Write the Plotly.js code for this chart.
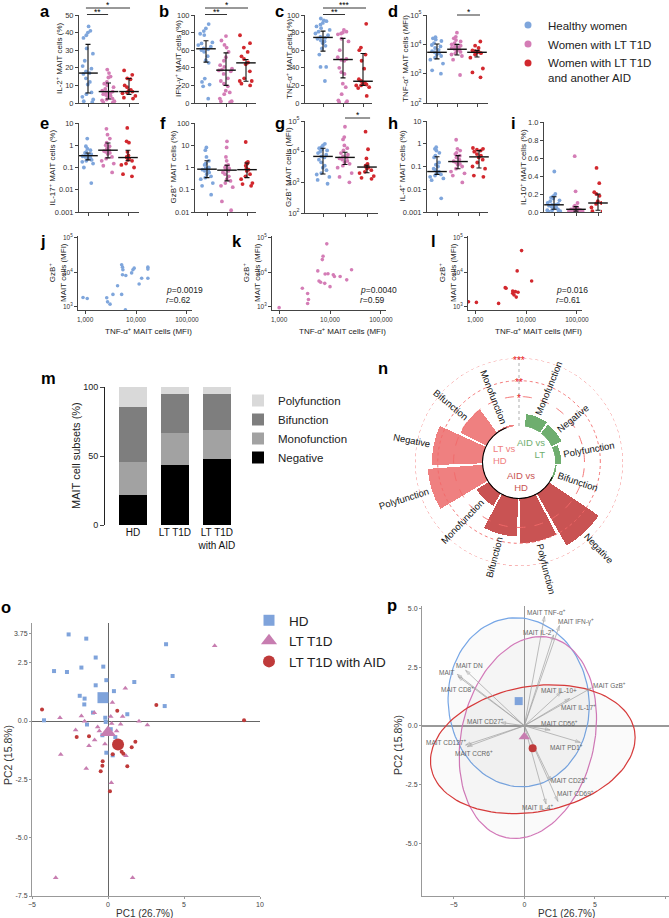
<!DOCTYPE html>
<html><head><meta charset="utf-8">
<script src="https://cdn.plot.ly/plotly-3.0.1.min.js"></script>
<style>body{margin:0;background:#fff}#chart{width:669px;height:918px}</style>
</head><body><div id="chart"></div>
<script>
// ================= DATA =================
const groupNames = ['Healthy women','Women with LT T1D','Women with LT T1D<br>and another AID'];

// a: IL-2+ MAIT cells (%)
const aHD  = [43.5,41,40,38.5,37,31,28,24,21,19.5,18,17,16.5,14,12,10.5,6,5,3.5,2,1,0.5];
const aLT  = [19,17,15,14.5,12,11,10,9,8,7,6.5,6,5.5,5,4.5,4,3,2.5,2,1.5,1,0.5,0.2];
const aAID = [18.5,16,14,13.5,10,9,7.5,7,6.5,6,5.5,4,3,2.5];
const aMed = [17,6.5,6.5], aQ1 = [5.7,2.3,4.9], aQ3 = [33.3,11.4,13.9];
// b: IFN-g+ MAIT cells (%)
const bHD  = [89.7,84.8,81.7,78.7,77.2,68.8,67.7,65.8,63.9,62,61,60,58.2,53.2,48.7,45.6,27.8,24,20.9,19,4.9];
const bLT  = [76,71,66,63,58,52,48,43,41,39,38,37,36,33,28,25,22,19,14,12,10,5,2,2,1];
const bAID = [77,68,63,58,53,50,46,44,36,28,25,25,22,20];
const bMed = [61.6,37.3,45.6], bQ1 = [46.4,20,24.7], bQ3 = [70.7,57,49.4];
// c: TNF-a+ MAIT cells (%)
const cHD  = [96,94,93,91,89,87,85,83,81,79,77,75,74,73,71,70,68,65,62,55,41,41,25];
const cLT  = [83,81,80,79,78,73,70,60,52,50,49,48,40,35,33,22,18,10,3,2,1,0.5];
const cAID = [90,63,60,55,48,39,27,25,23,22,21,20,20,18,17,8];
const cMed = [74.5,49.4,24.7], cQ1 = [58.9,28.5,20], cQ3 = [81.7,73.4,56.3];
// d: TNF-a+ MAIT cells (MFI)
const dHD  = [17500,16000,14500,13000,11000,9500,8500,7500,6500,5800,5400,5000,4500,4000,3500,3000,2200,1300,1000];
const dLT  = [25000,18000,16000,14000,12500,11000,10000,9000,8500,8000,7500,7000,6500,6000,5500,5000,4500,4000,3000,900];
const dAID = [12500,9000,7500,6200,5800,5500,5300,5000,4500,3500,1500,1100,750];
const dMed = [5350,6800,5350], dQ1 = [3200,4350,3700], dQ3 = [10250,10000,6200];
// e: IL-17+ MAIT cells (%)
const eHD  = [2.0,0.9,0.7,0.6,0.5,0.45,0.4,0.38,0.35,0.32,0.3,0.28,0.25,0.22,0.2,0.18,0.15,0.1,0.02];
const eLT  = [5.5,3.0,2.0,1.3,1.0,0.9,0.7,0.6,0.55,0.5,0.45,0.4,0.3,0.25,0.2,0.15,0.12,0.06];
const eAID = [6.0,1.5,1.3,0.5,0.35,0.3,0.28,0.25,0.22,0.2,0.15,0.13,0.1,0.05,0.04];
const eMed = [0.34,0.6,0.28], eQ1 = [0.22,0.27,0.2], eQ3 = [0.45,1.27,0.6];
// f: GzB+ MAIT cells (%)
const fHD  = [8,6,3,2,1.5,1.3,1.0,0.9,0.8,0.8,0.7,0.6,0.5,0.4,0.35,0.3,0.2,0.15,0.06];
const fLT  = [15,8,3,2,1.3,1.2,1.0,0.9,0.8,0.7,0.6,0.5,0.4,0.3,0.25,0.2,0.15,0.13,0.03,0.012];
const fAID = [14,1.8,1.6,1.5,1.2,0.9,0.8,0.7,0.5,0.4,0.3,0.2,0.18,0.15];
const fMed = [0.84,0.76,0.8], fQ1 = [0.35,0.25,0.35], fQ3 = [2.0,1.27,1.6];
// g: GzB+ MAIT cells (MFI)
const gHD  = [18000,16000,14000,13000,12000,11000,10000,9000,8000,7000,6500,5500,4500,3500,3000,2500,2000,1800,1500,1200,900];
const gLT  = [65000,30000,25000,16000,13000,11000,9000,8000,7000,6500,6000,5500,5000,4500,4000,3500,3000,2000,1500,1000];
const gAID = [45000,12000,6000,4000,3500,3200,3000,2800,2500,2200,2000,1600,1400,1300];
const gMed = [7000,6500,3150], gQ1 = [1870,3800,2050], gQ3 = [12900,9600,3600];
// h: IL-4+ MAIT cells (%)
const hHD  = [0.7,0.6,0.5,0.4,0.3,0.25,0.15,0.12,0.1,0.08,0.07,0.06,0.05,0.045,0.04,0.035,0.03,0.025,0.004];
const hLT  = [1.5,0.6,0.5,0.4,0.35,0.3,0.25,0.2,0.17,0.15,0.13,0.12,0.1,0.08,0.06,0.05,0.04,0.02];
const hAID = [0.65,0.6,0.55,0.5,0.45,0.35,0.3,0.25,0.2,0.15,0.1,0.08,0.04,0.035];
const hMed = [0.06,0.165,0.265], hQ1 = [0.045,0.08,0.086], hQ3 = [0.27,0.3,0.5];
// i: IL-10+ MAIT cells (%)
const iHD  = [0.45,0.2,0.18,0.17,0.16,0.15,0.13,0.12,0.1,0.09,0.08,0.08,0.07,0.06,0.05,0.04,0.03,0.02,0.02,0.01,0.005,0];
const iLT  = [0.62,0.23,0.1,0.07,0.06,0.05,0.04,0.035,0.03,0.03,0.025,0.02,0.02,0.015,0.01,0.01,0.005,0];
const iAID = [0.49,0.32,0.22,0.2,0.18,0.12,0.1,0.09,0.05,0.02,0.01,0.005];
const iMed = [0.08,0.03,0.1], iQ1 = [0.03,0.01,0.02], iQ3 = [0.17,0.06,0.2];

// j-l: TNF-a+ MFI (x) vs GzB+ MFI (y)
const jX = [909,1100,2660,2760,3090,3520,4340,5220,5220,5420,5530,5420,6190,6300,8200,8700,9200,11500,12900,17100,17100,17100];
const jY = [1860,1740,1830,1400,1200,2300,4100,2300,16600,14100,11800,8500,830,8100,9600,11800,13200,4600,6700,14100,12400,6700];
const kX = [1000,2860,3630,3770,3630,5750,6080,6540,7060,7300,7870,8010,8640,9120,10000,11600,12200,15800,21300,26500];
const kY = [950,3450,2450,1630,1250,11000,5600,5150,23300,29000,4800,8900,66600,9100,3850,8500,7600,7600,6050,11800];
const lX = [740,1060,2890,3900,4060,5480,5480,5820,6180,6430,6700,6970,8180,12900];
const lY = [1410,1350,1260,3600,3450,2460,2890,2200,2760,1920,11000,2640,42400,5600];
const corrP = ['0.0019','0.0040','0.016'];
const corrR = ['0.62','0.59','0.61'];

// m: MAIT cell subsets (%)
const mCats = ['HD','LT T1D','LT T1D<br>with AID'];
const mNegative     = [21.7,43.5,47.8];
const mMonofunction = [24.3,23.2,21.0];
const mBifunction   = [39.5,28.3,26.2];
const mPolyfunction = [14.5,5.0,5.0];

// n: -log10(p) of comparisons
const nGroups = ['AID vs LT','AID vs LT','AID vs LT','AID vs LT','AID vs HD','AID vs HD','AID vs HD','AID vs HD','LT vs HD','LT vs HD','LT vs HD','LT vs HD'];
const nSubsets = ['Monofunction','Negative','Polyfunction','Bifunction','Negative','Polyfunction','Bifunction','Monofunction','Polyfunction','Negative','Bifunction','Monofunction'];
const nValues = [0.55,0.5,0.27,0.08,2.65,2.0,1.7,0.65,2.45,2.25,1.3,0.08];
const nSigLevels = [1.3,2,3];
const nSigText = ['*','**','***'];

// o: PCA individuals
const oHDx = [-2.59,-1.43,3.82,-0.81,-1.75,-0.31,-3.55,-2.70,4.25,-0.11,1.73,-0.81,0.39,-1.86,-1.54,-1.56,3.73,-0.99,1.27,-0.18,-4.21,-0.15,-1.38,0.18,-0.37,0.48,-0.11,0.31];
const oHDy = [3.71,3.53,3.29,2.72,2.29,2.33,2.14,2.10,1.93,1.75,1.67,1.53,1.28,1.08,0.96,0.71,0.64,0.36,0.29,0.14,0.03,-0.04,-0.15,-0.35,-0.61,-0.69,-1.36,-1.47];
const oLTx = [7.02,1.14,0.29,-3.16,-1.75,-0.90,0.18,0.96,-1.54,2.04,2.59,0.24,0.83,-2.13,-0.68,-0.57,0.57,-0.88,-1.25,-0.20,-3.11,1.18,-1.43,0.22,-3.44,1.62];
const oLTy = [3.22,1.40,0.79,0.14,0.21,0.35,0.19,0.19,-0.01,-0.01,-0.17,-0.11,-0.14,-0.39,-0.26,-0.43,-0.43,-0.81,-1.06,-0.99,-1.44,-1.49,-2.04,-2.65,-6.72,-6.72];
const oAIDx = [-4.34,3.18,0.61,8.95,-2.06,-1.25,1.80,1.56,0.90,1.01,0.31,-0.35,-0.37,1.27,-0.48,0.13];
const oAIDy = [0.49,0.69,0.44,0.03,-0.69,-0.65,-0.89,-1.13,-1.32,-1.40,-1.43,-1.72,-1.92,-1.94,-2.15,-3.01];
const centName = ['HD','LT T1D','LT T1D with AID'];
const centX = [-0.33,0.0,0.66];
const centY = [1.0,-0.49,-1.01];

// p: PCA variables (loadings) and group ellipses
const pVars = ['MAIT TNF-α<sup>+</sup>','MAIT IFN-γ<sup>+</sup>','MAIT IL-2<sup>+</sup>','MAIT DN','MAIT','MAIT CD8<sup>+</sup>','MAIT GzB<sup>+</sup>','MAIT IL-10+','MAIT IL-17<sup>+</sup>','MAIT CD27<sup>+</sup>','MAIT CD56<sup>+</sup>','MAIT CD127<sup>+</sup>','MAIT CCR6<sup>+</sup>','MAIT PD1<sup>+</sup>','MAIT CD25<sup>+</sup>','MAIT CD69<sup>+</sup>','MAIT IL-4<sup>+</sup>'];
const pLoadX = [1.43,2.49,2.07,-4.16,-4.75,-4.7,4.75,2.61,3.21,-1.66,1.83,-4.16,-4.04,3.97,1.9,2.38,1.54];
const pLoadY = [4.66,4.27,3.87,2.36,2.19,2.1,1.61,1.44,1.16,0.14,-0.18,-0.82,-0.89,-0.71,-2.37,-3.22,-3.33];
const pLabX = [1.59,3.68,1.0,-3.92,-5.51,-4.75,6.06,2.49,3.87,-2.78,2.49,-5.58,-3.56,3.02,3.21,3.63,0.95];
const pLabY = [4.86,4.43,4.01,2.57,2.26,1.58,1.72,1.51,0.78,0.2,0.13,-0.68,-1.17,-0.92,-2.3,-2.87,-3.47];
const pCentX = [-0.4,0.0,0.59];
const pCentY = [1.05,-0.47,-0.96];
const ellCenter = [[-0.4,1.0],[0.25,-0.5],[0.6,-1.0]];
const ellU = [[5.0,0.0],[4.8,0.1],[7.25,0.5]];
const ellV = [[-0.2,3.6],[0.8,4.3],[0.0,2.7]];

// ================= LAYOUT / DRAWING =================
const W=669, H=918;
const X = px => px/W, Y = py => 1 - py/H;
const COL  = ['#7FA6DC','#D47DB6','#D2282E'];
const OCOL = ['#7FA3DB','#C77DB0','#BF3A3A'];
const FONT = '"Liberation Sans", Arial, sans-serif';
const traces = [];
const layout = {width:W, height:H, margin:{l:0,r:0,t:0,b:0}, paper_bgcolor:'#fff', plot_bgcolor:'rgba(0,0,0,0)',
  font:{family:FONT, color:'#222', size:8}, showlegend:true, annotations:[], shapes:[], barmode:'stack'};
function ann(o){ layout.annotations.push(Object.assign({showarrow:false, xref:'paper', yref:'paper', xanchor:'center', yanchor:'middle'}, o)); }
function letter(t, px, py){ ann({text:'<b>'+t+'</b>', x:X(px), y:Y(py), yanchor:'top', font:{size:16.5, color:'#000'}}); }

const linTicks100 = [0,20,40,60,80,100];
const PANELS = [
 {n:1, let:'a', lp:[45,0], data:[aHD,aLT,aAID], med:aMed, q1:aQ1, q3:aQ3, L:79, C0:88, S:20.5, R:139, top:15, bot:103, type:'linear', range:[0,50], tv:[0,10,20,30,40,50], tt:null, title:'IL-2<sup>+</sup> MAIT cells (%)', tx:59,
  sig:[[-0.1,2.05,8,'*'],[-0.05,0.98,14.5,'**']]},
 {n:2, let:'b', lp:[164,0], data:[bHD,bLT,bAID], med:bMed, q1:bQ1, q3:bQ3, L:195, C0:206, S:20, R:256, top:15, bot:103, type:'linear', range:[0,100], tv:linTicks100, tt:null, title:'IFN-γ<sup>+</sup> MAIT cells (%)', tx:178,
  sig:[[-0.05,2.1,8,'*'],[-0.05,1.05,14.5,'**']]},
 {n:3, let:'c', lp:[279,0], data:[cHD,cLT,cAID], med:cMed, q1:cQ1, q3:cQ3, L:305, C0:323, S:20, R:372, top:15, bot:103, type:'linear', range:[0,100], tv:linTicks100, tt:null, title:'TNF-α<sup>+</sup> MAIT cells (%)', tx:289,
  sig:[[0,2.15,8,'***'],[0,1.1,14.5,'**']]},
 {n:4, let:'d', lp:[393,0], data:[dHD,dLT,dAID], med:dMed, q1:dQ1, q3:dQ3, L:427, C0:437, S:20, R:488, top:15, bot:103, type:'log', range:[2,5], tv:[100,1000,10000,100000], tt:['10<sup>2</sup>','10<sup>3</sup>','10<sup>4</sup>','10<sup>5</sup>'], title:'TNF-α<sup>+</sup> MAIT cells (MFI)', tx:405,
  sig:[[1.0,2.15,15,'*']]},
 {n:5, let:'e', lp:[44,112], data:[eHD,eLT,eAID], med:eMed, q1:eQ1, q3:eQ3, L:79, C0:88, S:20, R:139, top:123, bot:212, type:'log', range:[-3,1], tv:[0.001,0.01,0.1,1,10], tt:['0.001','0.01','0.1','1','10'], title:'IL-17<sup>+</sup> MAIT cells (%)', tx:52, sig:[]},
 {n:6, let:'f', lp:[163,112], data:[fHD,fLT,fAID], med:fMed, q1:fQ1, q3:fQ3, L:195, C0:207, S:20, R:256, top:123, bot:212, type:'log', range:[-2,2], tv:[0.01,0.1,1,10,100], tt:['0.01','0.1','1','10','100'], title:'GzB<sup>+</sup> MAIT cells (%)', tx:173, sig:[]},
 {n:7, let:'g', lp:[280,112], data:[gHD,gLT,gAID], med:gMed, q1:gQ1, q3:gQ3, L:305, C0:323, S:22, R:378, top:121, bot:213, type:'log', range:[2,5], tv:[100,1000,10000,100000], tt:['10<sup>2</sup>','10<sup>3</sup>','10<sup>4</sup>','10<sup>5</sup>'], title:'GzB<sup>+</sup> MAIT cells (MFI)', tx:288,
  sig:[[1.0,2.14,118,'*']]},
 {n:8, let:'h', lp:[393,112], data:[hHD,hLT,hAID], med:hMed, q1:hQ1, q3:hQ3, L:427, C0:437, S:21, R:488, top:121, bot:212, type:'log', range:[-3,1], tv:[0.001,0.01,0.1,1,10], tt:['0.001','0.01','0.1','1','10'], title:'IL-4<sup>+</sup> MAIT cells (%)', tx:401, sig:[]},
 {n:9, let:'i', lp:[513,112], data:[iHD,iLT,iAID], med:iMed, q1:iQ1, q3:iQ3, L:544, C0:554, S:22, R:602, top:122, bot:212, type:'linear', range:[0,1], tv:[0,0.2,0.4,0.6,0.8,1.0], tt:['0.0','0.2','0.4','0.6','0.8','1.0'], title:'IL-10<sup>+</sup> MAIT cells (%)', tx:523, sig:[]}
];

const axBase = {showline:true, linecolor:'#444', linewidth:1, ticks:'outside', ticklen:3, tickcolor:'#444', showgrid:false, zeroline:false, fixedrange:true};

PANELS.forEach(p=>{
  const k=p.n, xr='x'+k, yr='y'+k;
  layout['xaxis'+k] = Object.assign({}, axBase, {domain:[X(p.L),X(p.R)], range:[(p.L-p.C0)/p.S,(p.R-p.C0)/p.S], anchor:yr, tickvals:[0,1,2], showticklabels:false});
  const ya = Object.assign({}, axBase, {domain:[Y(p.bot),Y(p.top)], type:p.type, range:p.range, anchor:xr, tickvals:p.tv, tickfont:{size:7.5,color:'#333'}});
  if(p.tt) ya.ticktext = p.tt;
  layout['yaxis'+k] = ya;
  p.data.forEach((d,g)=>traces.push({type:'box', x0:g, y:d, xaxis:xr, yaxis:yr, boxpoints:'all', jitter:1, pointpos:0, width:0.8,
    marker:{color:COL[g], size:3.8}, line:{color:'rgba(0,0,0,0)', width:0}, fillcolor:'rgba(0,0,0,0)', showlegend:false, hoverinfo:'skip'}));
  traces.push({type:'scatter', mode:'markers', x:[0,1,2], y:p.med, xaxis:xr, yaxis:yr, cliponaxis:false,
    marker:{symbol:'line-ew', size:14, color:'#111', line:{width:1.4, color:'#111'}},
    error_y:{type:'data', symmetric:false, array:p.q3.map((v,i)=>v-p.med[i]), arrayminus:p.med.map((v,i)=>v-p.q1[i]), color:'#111', thickness:1.1, width:2.5},
    showlegend:false, hoverinfo:'skip'});
  p.sig.forEach(s=>{
    layout.shapes.push({type:'line', xref:xr, yref:'paper', x0:s[0], x1:s[1], y0:Y(s[2]), y1:Y(s[2]), line:{color:'#333', width:1}});
    ann({text:s[3], xref:xr, x:(s[0]+s[1])/2, y:Y(s[2]), yanchor:'bottom', yshift:-4, font:{size:8.5, color:'#000'}});
  });
  ann({text:p.title, x:X(p.tx), y:Y((p.top+p.bot)/2), textangle:-90, font:{size:8, color:'#222'}});
  letter(p.let, p.lp[0], p.lp[1]);
});

// legend entries for strip plots
groupNames.forEach((nm,g)=>traces.push({type:'scatter', mode:'markers', x:[null], y:[null], xaxis:'x1', yaxis:'y1', name:nm,
  marker:{color:COL[g], size:7}, legend:'legend', showlegend:true, hoverinfo:'skip'}));
layout.legend = {x:X(508), y:Y(11), xanchor:'left', yanchor:'top', traceorder:'normal', font:{size:11.5, color:'#222'}, bgcolor:'rgba(0,0,0,0)', valign:'top', tracegroupgap:0, itemwidth:30};

// ---- j, k, l scatter ----
const JKL = [
 {n:10, let:'j', L:78, R:192, x:jX, y:jY, c:COL[0]},
 {n:11, let:'k', L:272, R:386, x:kX, y:kY, c:COL[1]},
 {n:12, let:'l', L:468, R:582, x:lX, y:lY, c:COL[2]}
];
JKL.forEach((p,idx)=>{
  const k=p.n, xr='x'+k, yr='y'+k;
  layout['xaxis'+k] = Object.assign({}, axBase, {domain:[X(p.L),X(p.R)], type:'log', range:[2.86,5.1], anchor:yr,
    tickvals:[1000,10000,100000], ticktext:['1,000','10,000','100,000'], tickfont:{size:6.5,color:'#333'}});
  layout['yaxis'+k] = Object.assign({}, axBase, {domain:[Y(310),Y(236)], type:'log', range:[2.91,5.05], anchor:xr,
    tickvals:[1000,10000,100000], ticktext:['10<sup>3</sup>','10<sup>4</sup>','10<sup>5</sup>'], tickfont:{size:6.5,color:'#333'}});
  traces.push({type:'scatter', mode:'markers', x:p.x, y:p.y, xaxis:xr, yaxis:yr, marker:{color:p.c, size:3.6}, showlegend:false, hoverinfo:'skip'});
  ann({text:'<i>p</i>='+corrP[idx], xref:xr, yref:yr, x:4.55, y:3.5, xanchor:'left', font:{size:8.5, color:'#222'}});
  ann({text:'<i>r</i>='+corrR[idx], xref:xr, yref:yr, x:4.55, y:3.2, xanchor:'left', font:{size:8.5, color:'#222'}});
  ann({text:'GzB<sup>+</sup><br>MAIT cells (MFI)', x:X(p.L-21), y:Y(273), textangle:-90, font:{size:8, color:'#222'}});
  ann({text:'TNF-α<sup>+</sup> MAIT cells (MFI)', x:X(p.L+70), y:Y(331), font:{size:8, color:'#222'}});
  letter(p.let, p.L-35, 230);
});

// ---- m stacked bars ----
const mSeries = [['Negative',mNegative,'#000000'],['Monofunction',mMonofunction,'#A2A2A2'],['Bifunction',mBifunction,'#7E7E7E'],['Polyfunction',mPolyfunction,'#D9D9D9']];
mSeries.forEach(s=>traces.push({type:'bar', x:mCats, y:s[1], name:s[0], xaxis:'x13', yaxis:'y13', width:0.68,
  marker:{color:s[2], line:{width:0}}, legend:'legend2', hoverinfo:'skip'}));
layout.xaxis13 = {domain:[X(105),X(240)], type:'category', categoryarray:mCats, range:[-0.667,2.55], anchor:'y13', showline:false, ticks:'', tickfont:{size:10,color:'#111'}, showgrid:false, zeroline:false, fixedrange:true};
layout.yaxis13 = Object.assign({}, axBase, {domain:[Y(525),Y(387)], range:[0,100], anchor:'x13', tickvals:[0,50,100], ticklen:4, tickfont:{size:9,color:'#222'}, linecolor:'#222'});
layout.legend2 = {x:X(238), y:Y(386), xanchor:'left', yanchor:'top', traceorder:'reversed', font:{size:11.5,color:'#222'}, bgcolor:'rgba(0,0,0,0)', tracegroupgap:0, itemwidth:30};
ann({text:'MAIT cell subsets (%)', x:X(76), y:Y(456), textangle:-90, font:{size:11, color:'#222'}});
letter('m', 48, 367);

// ---- n polar bars ----
const nCx=519, nCy=462, nR=104, nHole=36, nStep=28.8, nStart=68;
const nPxPerUnit = (nR-nHole)/3;
const GCOL = {'AID vs LT':'#6FAE6F','AID vs HD':'#C95353','LT vs HD':'#EF8080'};
const nTheta = nValues.map((v,i)=>nStart - nStep*i);
layout.polar = {domain:{x:[X(nCx-nR),X(nCx+nR)], y:[Y(nCy+nR),Y(nCy-nR)]}, hole:nHole/nR, bgcolor:'rgba(0,0,0,0)',
  radialaxis:{visible:false, range:[0,3]}, angularaxis:{visible:false, rotation:0, direction:'counterclockwise'}};
const circTheta = []; for(let t=0;t<=360;t+=2) circTheta.push(t);
nSigLevels.forEach((lv,i)=>traces.push({type:'scatterpolar', mode:'lines', r:circTheta.map(()=>lv), theta:circTheta, cliponaxis:false,
  line:{color:'#F26A6A', width:0.9, dash: i===0?'dash':'dot'}, showlegend:false, hoverinfo:'skip'}));
['AID vs LT','AID vs HD','LT vs HD'].forEach(gname=>{
  const idx = nGroups.map((g,i)=>g===gname?i:-1).filter(i=>i>=0);
  traces.push({type:'barpolar', r:idx.map(i=>nValues[i]), theta:idx.map(i=>nTheta[i]), width:idx.map(()=>26.5),
    marker:{color:GCOL[gname], line:{width:0}}, showlegend:false, hoverinfo:'skip'});
});
const arcTheta = []; for(let t=110;t<=336;t+=2) arcTheta.push(t);
traces.push({type:'scatterpolar', mode:'lines', r:arcTheta.map(()=>0), theta:arcTheta, cliponaxis:false, line:{color:'#000', width:2}, showlegend:false, hoverinfo:'skip'});
traces.push({type:'scatterpolar', mode:'lines', r:[0,3], theta:[90,90], cliponaxis:false, line:{color:'#C8C8C8', width:1.5, dash:'dot'}, showlegend:false, hoverinfo:'skip'});
nSigLevels.forEach((lv,i)=>ann({text:nSigText[i], x:X(nCx), y:Y(nCy-(nHole+lv*nPxPerUnit)), yshift:-2, font:{size:10, color:'#E81818'}}));
const cv = document.createElement('canvas').getContext('2d');
function tw(t,s){ cv.font = s+'px "Liberation Sans"'; return cv.measureText(t).width; }
nSubsets.forEach((lab,i)=>{
  const th = nTheta[i], rad = th*Math.PI/180;
  const rOut = nHole + nValues[i]*nPxPerUnit;
  const rc = rOut + 3 + tw(lab,9.5)/2;
  const px = nCx + rc*Math.cos(rad), py = nCy - rc*Math.sin(rad);
  let tn = ((th%360)+360)%360;
  const ang = (Math.cos(rad) >= 0) ? -(tn>180?tn-360:tn) : 180 - tn;
  ann({text:lab, x:X(px), y:Y(py), textangle:ang, font:{size:9.5, color:'#111'}});
});
ann({text:'LT vs<br>HD', x:X(491), y:Y(454), xanchor:'left', align:'left', font:{size:9.5, color:GCOL['LT vs HD']}});
ann({text:'AID vs<br>LT', x:X(547), y:Y(448), xanchor:'right', align:'right', font:{size:9.5, color:GCOL['AID vs LT']}});
ann({text:'AID vs<br>HD', x:X(521), y:Y(481), align:'center', font:{size:9.5, color:GCOL['AID vs HD']}});
letter('n', 383, 357);

// ---- o PCA individuals ----
const pcaAx = {showline:true, linecolor:'#999', linewidth:1, ticks:'outside', ticklen:2, tickcolor:'#999', showgrid:false, zeroline:true, zerolinecolor:'#666', zerolinewidth:1, tickfont:{size:7,color:'#444'}, fixedrange:true};
layout.xaxis14 = Object.assign({}, pcaAx, {domain:[X(32),X(260)], range:[-5,10], anchor:'y14', tickvals:[-5,0,5,10]});
layout.yaxis14 = Object.assign({}, pcaAx, {domain:[Y(896),Y(623)], range:[-7.5,4.2], anchor:'x14', tickvals:[3.75,2.5,0,-2.5,-5,-7.5], ticktext:['3.75','2.5','0.0','-2.5','-5.0','-7.5']});
const oSets = [[oHDx,oHDy,'square',4],[oLTx,oLTy,'triangle-up',5],[oAIDx,oAIDy,'circle',4]];
oSets.forEach((s,g)=>traces.push({type:'scatter', mode:'markers', x:s[0], y:s[1], xaxis:'x14', yaxis:'y14', marker:{symbol:s[2], size:s[3], color:OCOL[g]}, showlegend:false, hoverinfo:'skip'}));
const oCentSym = ['square','triangle-up','circle'], oCentSize=[11,14,12];
centName.forEach((nm,g)=>traces.push({type:'scatter', mode:'markers', x:[centX[g]], y:[centY[g]], xaxis:'x14', yaxis:'y14', name:nm,
  marker:{symbol:oCentSym[g], size:oCentSize[g], color:OCOL[g]}, legend:'legend3', showlegend:true, hoverinfo:'skip'}));
layout.legend3 = {x:X(249), y:Y(605), xanchor:'left', yanchor:'top', traceorder:'normal', font:{size:13.5,color:'#222'}, bgcolor:'rgba(0,0,0,0)', itemsizing:'trace', tracegroupgap:0, itemwidth:30};
ann({text:'PC2 (15.8%)', x:X(8), y:Y(755), textangle:-90, font:{size:10.5, color:'#333'}});
ann({text:'PC1 (26.7%)', x:X(144), y:Y(913), font:{size:10, color:'#333'}});
letter('o', 6, 596);

// ---- p PCA variables ----
layout.xaxis15 = Object.assign({}, pcaAx, {domain:[X(422),X(669)], range:[-7.25,10.25], anchor:'y15', tickvals:[-5,0,5,10], zerolinecolor:'#999', zerolinewidth:1.5});
layout.yaxis15 = Object.assign({}, pcaAx, {domain:[Y(896),Y(606)], range:[-7.25,5.1], anchor:'x15', tickvals:[5,2.5,0,-2.5,-5], ticktext:['5.0','2.5','0.0','-2.5','-5.0'], zerolinecolor:'#999', zerolinewidth:1.5});
const ellCol = ['#76A6E6','#D278B8','#D63A3A'];
ellCenter.forEach((c,g)=>{
  const ex=[], ey=[];
  for(let t=0;t<=360;t+=3){ const a=t*Math.PI/180; ex.push(c[0]+ellU[g][0]*Math.cos(a)+ellV[g][0]*Math.sin(a)); ey.push(c[1]+ellU[g][1]*Math.cos(a)+ellV[g][1]*Math.sin(a)); }
  traces.push({type:'scatter', mode:'lines', x:ex, y:ey, xaxis:'x15', yaxis:'y15', fill:'toself', fillcolor:'rgba(120,120,120,0.035)', line:{color:ellCol[g], width:1.2}, showlegend:false, hoverinfo:'skip'});
});
const arX=[], arY=[], arS=[], arZ=[];
pLoadX.forEach((x,i)=>{ arX.push(0,x,null); arY.push(0,pLoadY[i],null); arS.push('circle','arrow-open','circle'); arZ.push(0,5,0); });
traces.push({type:'scatter', mode:'lines+markers', x:arX, y:arY, xaxis:'x15', yaxis:'y15', connectgaps:false,
  line:{color:'#A0A0A0', width:0.7}, marker:{symbol:arS, size:arZ, angleref:'previous', color:'#A0A0A0', line:{color:'#A0A0A0', width:0.7}}, showlegend:false, hoverinfo:'skip'});
pVars.forEach((v,i)=>ann({text:v, xref:'x15', yref:'y15', x:pLabX[i], y:pLabY[i], font:{size:6.5, color:'#666'}}));
const pSym=['square','triangle-up','circle'], pSize=[8,10,8];
pCentX.forEach((x,g)=>traces.push({type:'scatter', mode:'markers', x:[x], y:[pCentY[g]], xaxis:'x15', yaxis:'y15', marker:{symbol:pSym[g], size:pSize[g], color:OCOL[g]}, showlegend:false, hoverinfo:'skip'}));
ann({text:'PC2 (15.8%)', x:X(398), y:Y(745), textangle:-90, font:{size:10.5, color:'#333'}});
ann({text:'PC1 (26.7%)', x:X(566), y:Y(913), font:{size:10, color:'#333'}});
letter('p', 392, 594);

Plotly.newPlot('chart', traces, layout, {staticPlot:true, displayModeBar:false});
</script>
</body></html>
